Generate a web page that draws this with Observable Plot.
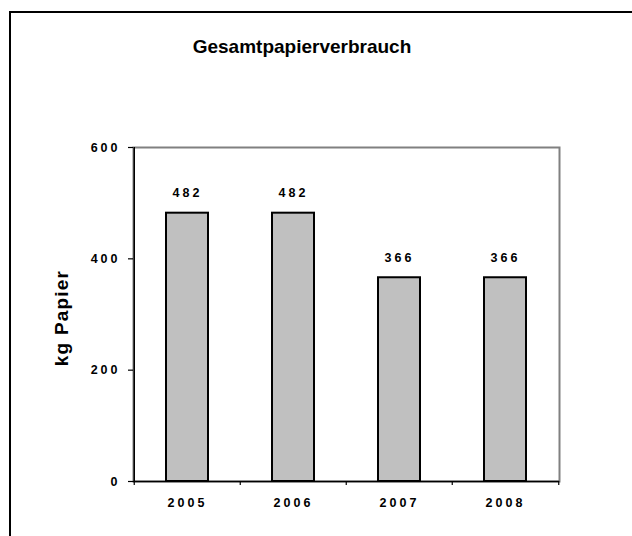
<!DOCTYPE html>
<html><head><meta charset="utf-8">
<script src="https://cdn.jsdelivr.net/npm/d3@7"></script>
<script src="https://cdn.jsdelivr.net/npm/@observablehq/plot@0.6"></script>
<style>
body{margin:0;background:#fff;}
#wrap{position:relative;width:632px;height:536px;overflow:hidden;font-family:"Liberation Sans",Arial,sans-serif;background:#fff;}
#border{position:absolute;left:9px;top:11px;width:700px;height:600px;border-left:2px solid #000;border-top:2px solid #000;}
#title{position:absolute;left:0;width:604px;top:37px;line-height:20px;font-size:19px;font-weight:bold;text-align:center;color:#000;}
#ylabel{position:absolute;left:-38px;top:308px;width:200px;height:20px;line-height:20px;font-size:19px;font-weight:bold;text-align:center;transform:rotate(-90deg);letter-spacing:1.2px;color:#000;}
#chart{position:absolute;left:0;top:0;}
#chart svg text{letter-spacing:3px;}
</style>
</head><body>
<div id="wrap">
  <div id="border"></div>
  <div id="chart"></div>
  <div id="title">Gesamtpapierverbrauch</div>
  <div id="ylabel">kg Papier</div>
</div>
<script>
const years = ["2005", "2006", "2007", "2008"];
const values = [482, 482, 366, 366];
const yTicks = [0, 200, 400, 600];

const W = 632, H = 536, mL = 133, mR = 73, mT = 147, mB = 55;
const step = (W - mL - mR) / years.length;
const data = years.map((y, i) => ({year: y, value: values[i]}));

const svg = Plot.plot({
  width: W, height: H,
  marginLeft: mL, marginRight: mR, marginTop: mT, marginBottom: mB,
  style: {fontFamily: "Liberation Sans, Arial, sans-serif", background: "transparent", color: "#000"},
  x: {domain: years, paddingInner: 0.6, paddingOuter: 0.3, axis: null},
  y: {domain: [0, 600], axis: null},
  marks: [
    Plot.frame({stroke: "#808080", strokeWidth: 2}),
    Plot.barY(data, {x: "year", y: "value", fill: "#c0c0c0", stroke: "#000", strokeWidth: 2}),
    Plot.ruleY([0], {stroke: "#000", strokeWidth: 1.5}),
    Plot.ruleX([years[0]], {dx: -step / 2, stroke: "#000", strokeWidth: 1.5}),
    Plot.axisX({ticks: years, tickSize: 4, dx: -step / 2, tickFormat: () => "", strokeWidth: 1.2, label: null}),
    Plot.axisX({ticks: [years[years.length - 1]], tickSize: 4, dx: step / 2, tickFormat: () => "", strokeWidth: 1.2, label: null}),
    Plot.axisX({ticks: years, tickSize: 0, tickPadding: 17, fontSize: 12.5, fontWeight: "bold", label: null}),
    Plot.axisY({ticks: yTicks, tickSize: 5, tickPadding: 8, fontSize: 12.5, fontWeight: "bold", strokeWidth: 1.2, label: null}),
    Plot.text(data, {x: "year", y: "value", text: d => String(d.value), dy: -20, fontSize: 12.5, fontWeight: "bold", fill: "#000"})
  ]
});
document.getElementById("chart").appendChild(svg);
</script>
</body></html>
